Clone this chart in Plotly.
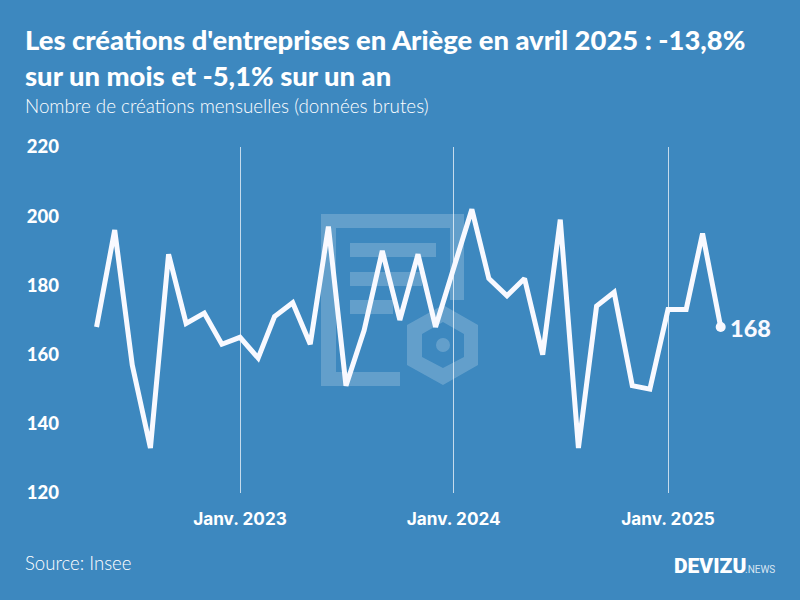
import pandas as pd
import plotly.graph_objects as go

BG_COLOR = "#3d88bf"
LINE_COLOR = "#f8f9ff"
FONT = "Lato"
TICK_FONT = "Inter"
IMG_WIDTH = 800
IMG_HEIGHT = 600
MARGINS = dict(l=62, r=20, t=147, b=107)
PX_PER_DAY = 0.5855

creations = [168, 196, 157, 133, 189, 169, 172, 163,
             165, 159, 171, 175, 163, 197, 151, 167, 190, 170, 189, 168,
             185, 202, 182, 177, 182, 160, 199, 133, 174, 178, 151, 150,
             173, 173, 195, 168]
months = pd.date_range("2022-05-01", periods=len(creations), freq="MS")
df = pd.DataFrame({"month": months, "creations": creations})

plot_w = IMG_WIDTH - MARGINS["l"] - MARGINS["r"]
plot_h = IMG_HEIGHT - MARGINS["t"] - MARGINS["b"]


def px_x(x):
    return (x - MARGINS["l"]) / plot_w


def px_y(y):
    return (IMG_HEIGHT - MARGINS["b"] - y) / plot_h


def poly(points):
    # closed svg path from pixel positions of the page
    return "M" + " L".join(f"{px_x(x):.4f},{px_y(y):.4f}" for x, y in points) + " Z"


def logo_shape(path):
    return dict(type="path", path=path, xref="paper", yref="paper", layer="below",
                fillcolor="rgba(255,255,255,0.2)", line_width=0)


# watermark behind the line, placed in page pixels
frame = [(321, 214), (464, 214), (464, 300), (450, 300), (450, 228), (336, 228),
         (336, 372), (400, 372), (400, 386), (321, 386)]
bars = [[(350, 243), (436, 243), (436, 257), (350, 257)],
        [(350, 272), (422, 272), (422, 286), (350, 286)],
        [(350, 300), (393, 300), (393, 314), (350, 314)]]
hexagon = poly([(443, 305), (478, 325), (478, 365), (443, 385), (407, 365), (407, 325)]) + " " + \
    poly([(443, 322), (422, 334), (422, 357), (443, 368), (464, 357), (464, 334)])
shapes = [logo_shape(poly(frame))] + [logo_shape(poly(b)) for b in bars] + [logo_shape(hexagon)]
shapes.append(dict(type="circle", xref="paper", yref="paper", layer="below",
                   x0=px_x(436), x1=px_x(450), y0=px_y(352), y1=px_y(338),
                   fillcolor="rgba(255,255,255,0.2)", line_width=0))

fig = go.Figure()
fig.add_trace(go.Scatter(x=df.month, y=df.creations, mode="lines",
                         line=dict(color=LINE_COLOR, width=5),
                         showlegend=False, hoverinfo="skip"))
fig.add_trace(go.Scatter(x=df.month.tail(1), y=df.creations.tail(1), mode="markers",
                         marker=dict(color=LINE_COLOR, size=10),
                         showlegend=False, hoverinfo="skip"))

jan_2023 = pd.Timestamp("2023-01-01")
x_start = jan_2023 - pd.Timedelta(days=(240 - MARGINS["l"]) / PX_PER_DAY)
x_end = jan_2023 + pd.Timedelta(days=(IMG_WIDTH - MARGINS["r"] - 240) / PX_PER_DAY)
y_ticks = [120, 140, 160, 180, 200, 220]

fig.update_layout(
    width=IMG_WIDTH, height=IMG_HEIGHT, margin=MARGINS,
    paper_bgcolor=BG_COLOR, plot_bgcolor=BG_COLOR,
    font=dict(family=FONT, color="white"),
    title=dict(text="Les créations d'entreprises en Ariège en avril 2025 : -13,8%<br>sur un mois et -5,1% sur un an",
               x=25 / IMG_WIDTH, xanchor="left", y=1 - 50 / IMG_HEIGHT, yanchor="middle",
               font=dict(family=FONT, size=27.4, color="white", weight=900)),
    shapes=shapes,
    xaxis=dict(range=[x_start, x_end], showgrid=True, gridcolor="rgba(255,255,255,0.7)", gridwidth=1,
               tickvals=["2023-01-01", "2024-01-01", "2025-01-01"],
               ticktext=["Janv. 2023", "Janv. 2024", "Janv. 2025"],
               tickfont=dict(family=TICK_FONT, size=17.2, color="white", weight=700),
               ticklen=0, ticklabelstandoff=14, zeroline=False, showline=False),
    yaxis=dict(range=[120, 220], tickvals=y_ticks, ticktext=[str(v) for v in y_ticks], showgrid=False,
               tickfont=dict(family=FONT, size=18.5, color="white", weight=900),
               ticklen=0, ticklabelstandoff=2, zeroline=False, showline=False),
    annotations=[
        dict(text="168", x=df.month.iloc[-1], y=df.creations.iloc[-1], xanchor="left", yanchor="middle",
             xshift=7, yshift=-1, showarrow=False,
             font=dict(family=FONT, size=23.5, color=LINE_COLOR, weight=900)),
        dict(text="Nombre de créations mensuelles (données brutes)", xref="paper", yref="paper",
             x=px_x(23), y=px_y(105), xanchor="left", yanchor="middle", showarrow=False,
             font=dict(family=FONT, size=18.8, color="white", weight=300)),
        dict(text="Source: Insee", xref="paper", yref="paper",
             x=px_x(23), y=px_y(563), xanchor="left", yanchor="middle", showarrow=False,
             font=dict(family=FONT, size=18.6, color="white", weight=300)),
        dict(text="DEVIZU", xref="paper", yref="paper",
             x=px_x(748), y=px_y(566), xanchor="right", yanchor="middle", showarrow=False,
             font=dict(family="Roboto", size=21, color="white", weight=900)),
        dict(text=".NEWS", xref="paper", yref="paper",
             x=px_x(777), y=px_y(569), xanchor="right", yanchor="middle", showarrow=False,
             font=dict(family="Roboto", size=10, color="rgba(255,255,255,0.8)")),
    ],
)

fig.write_html("out.html", config=dict(displayModeBar=False),
               post_script="document.body.style.margin='0';")
